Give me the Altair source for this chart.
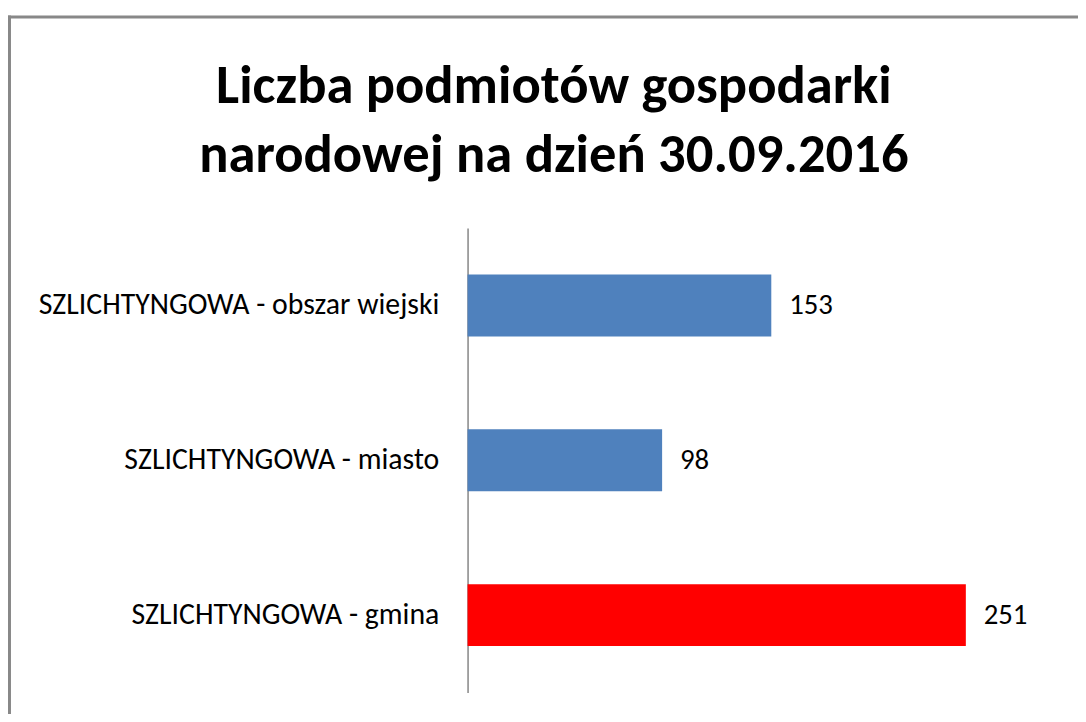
import altair as alt
import pandas as pd

categories = ["SZLICHTYNGOWA - obszar wiejski", "SZLICHTYNGOWA - miasto", "SZLICHTYNGOWA - gmina"]
values = [153, 98, 251]
bar_colors = ["#4F81BD", "#4F81BD", "#FF0000"]
title_lines = ["Liczba podmiotów gospodarki", "narodowej na dzień 30.09.2016"]

df = pd.DataFrame({"category": categories, "value": values, "color": bar_colors})
frame_df = pd.DataFrame({"k": [0]})

FONT = "Carlito, 'Liberation Sans Narrow', Lato, sans-serif"

PAD_L = 463
PAD_T = 219

y = alt.Y(
    "category:N", sort=categories, title=None,
    scale=alt.Scale(paddingInner=0.6, paddingOuter=0.3),
    axis=alt.Axis(domainColor="#868686", domainWidth=1.5, ticks=False,
                  labelPadding=29, labelFont=FONT, labelFontSize=30,
                  labelColor="#000000", labelLimit=600),
)
x = alt.X("value:Q", scale=alt.Scale(domain=[0, 300]), axis=None)

base = alt.Chart(df)
bars = base.mark_bar().encode(x=x, y=y, color=alt.Color("color:N", scale=None))
text = base.mark_text(align="left", baseline="middle", dx=18, font=FONT,
                      fontSize=29, color="#000000").encode(x=x, y=y, text="value:Q")

left_border = alt.Chart(frame_df).mark_rule(color="#888888", strokeWidth=3).encode(
    x=alt.value(1.5 - PAD_L), y=alt.value(5 - PAD_T), y2=alt.value(520))
top_border = alt.Chart(frame_df).mark_rule(color="#888888", strokeWidth=3).encode(
    x=alt.value(-PAD_L), x2=alt.value(640), y=alt.value(6.5 - PAD_T))

chart = alt.layer(left_border, top_border, bars, text).properties(
    width=600, height=468,
    title=alt.TitleParams(text=title_lines, font=FONT, fontSize=55, fontWeight="bold",
                          lineHeight=69, anchor="middle", dx=-213, dy=175, color="#000000"),
    autosize=alt.AutoSizeParams(type="none"),
    padding={"left": PAD_L, "top": PAD_T, "right": 15, "bottom": 19},
).configure_view(stroke=None)

chart.save("out.html", embed_options={"renderer": "svg", "actions": False})
